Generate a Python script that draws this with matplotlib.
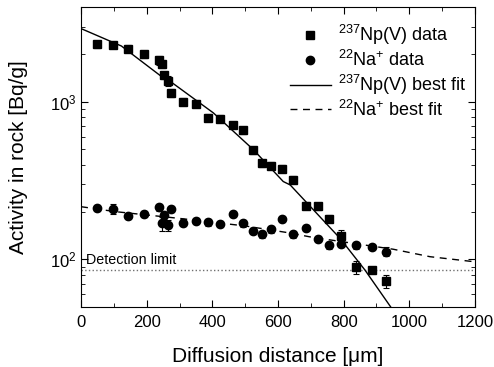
import matplotlib.pyplot as plt
from matplotlib.ticker import LogLocator, NullFormatter, MultipleLocator

plt.rcParams['font.family'] = ['Liberation Sans', 'DejaVu Sans']
plt.rcParams['mathtext.fontset'] = 'custom'
plt.rcParams['mathtext.rm'] = 'Liberation Sans'
plt.rcParams['mathtext.it'] = 'Liberation Sans:italic'

# 237Np(V) data
np_x = [48, 96, 142, 191, 238, 246, 253, 266, 274, 311, 350, 388, 424, 463, 494,
        523, 552, 580, 611, 647, 685, 721, 756, 793, 838, 885, 930]
np_y = [2318, 2290, 2178, 2000, 1833, 1729, 1476, 1352, 1140, 1004, 971, 791, 783, 714, 659,
        492, 408, 393, 376, 320, 219, 218, 181, 141, 89, 86, 73]
np_err = [110, 100, 110, 110, 110, 90, 80, 100, 60, 50, 50, 40, 40, 35, 33,
          25, 20, 20, 19, 16, 11, 11, 9, 13, 8, 4, 7]

# 22Na+ data
na_x = [48, 96, 142, 191, 238, 246, 253, 266, 274, 311, 350, 388, 424, 463, 494,
        523, 552, 580, 611, 647, 685, 721, 756, 793, 838, 885, 930]
na_y = [213, 209, 189, 194, 214, 169, 191, 165, 209, 171, 175, 172, 168, 195, 169,
        152, 144, 155, 181, 144, 159, 135, 123, 125, 123, 120, 112]
na_err = [10, 16, 8, 9, 10, 17, 10, 14, 10, 9, 8, 8, 8, 8, 8,
          7, 7, 7, 8, 7, 7, 6, 6, 6, 6, 6, 7]

# best-fit curves
npfit_x = [0, 123, 250, 271, 403, 525, 616, 637, 789, 865, 943]
npfit_y = [2917, 2261, 1422, 1352, 851, 497, 312, 297, 136, 85.5, 50]
nafit_x = [0, 104, 300, 500, 637, 697, 758, 951, 1063, 1200]
nafit_y = [216, 201, 182, 163, 147, 139, 133, 116, 104, 96.5]

detection_limit = 85.5

fig = plt.figure(figsize=(4.94, 3.67), dpi=100)
ax = fig.add_axes([0.164, 0.164, 0.7975, 0.817])

ax.axhline(detection_limit, color='#707070', linestyle=':', linewidth=1.0)
ax.text(15, 89, 'Detection limit', fontsize=10.3, va='bottom', ha='left')

l_np, = ax.plot(npfit_x, npfit_y, color='black', linewidth=1.0)
l_na, = ax.plot(nafit_x, nafit_y, color='black', linewidth=1.0, linestyle=(0, (5, 4)))

ax.errorbar(np_x, np_y, yerr=np_err, fmt='none', ecolor='black',
            capsize=2.5, elinewidth=0.8, capthick=0.8)
ax.errorbar(na_x, na_y, yerr=na_err, fmt='none', ecolor='black',
            capsize=2.5, elinewidth=0.8, capthick=0.8)
m_np, = ax.plot(np_x, np_y, 's', color='black', markersize=6)
m_na, = ax.plot(na_x, na_y, 'o', color='black', markersize=6)

ax.set_yscale('log')
ax.set_xlim(0, 1200)
ax.set_ylim(50, 4000)
ax.xaxis.set_major_locator(MultipleLocator(200))
ax.xaxis.set_minor_locator(MultipleLocator(100))
ax.yaxis.set_major_locator(LogLocator(base=10))
ax.yaxis.set_minor_locator(LogLocator(base=10, subs=range(2, 10)))
ax.yaxis.set_minor_formatter(NullFormatter())
ax.tick_params(which='both', direction='in', top=True, right=True, labelsize=12)
ax.tick_params(which='major', length=5)
ax.tick_params(which='minor', length=3)
ax.tick_params(axis='x', pad=6)
ax.tick_params(axis='y', pad=3)

ax.set_xlabel('Diffusion distance [\u03bcm]', fontsize=15)
ax.set_ylabel('Activity in rock [Bq/g]', fontsize=15)
ax.xaxis.set_label_coords(0.5, -0.135)
ax.yaxis.set_label_coords(-0.135, 0.5)

ax.legend([m_np, m_na, l_np, l_na],
          [r'$^{237}$Np(V) data', r'$^{22}$Na$^{+}$ data',
           r'$^{237}$Np(V) best fit', r'$^{22}$Na$^{+}$ best fit'],
          loc='upper right', bbox_to_anchor=(1.012, 0.988), frameon=False,
          fontsize=13, handlelength=2.3, handletextpad=0.4, labelspacing=0.15,
          borderaxespad=0.3)

fig.savefig('out.png', dpi=100)
